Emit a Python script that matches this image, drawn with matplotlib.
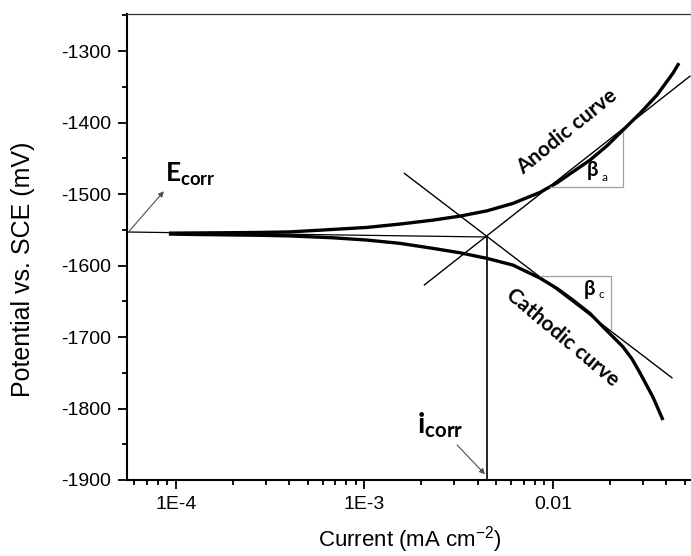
import matplotlib
matplotlib.use("Agg")
import matplotlib.pyplot as plt
from matplotlib.ticker import FixedLocator, LogLocator, NullFormatter, MultipleLocator

# curvas de polarización
i_anod = [9.18e-5, 1.341e-4, 1.934e-4, 2.790e-4, 4.025e-4, 6.806e-4, 1.031e-3,
          1.543e-3, 2.309e-3, 3.210e-3, 4.466e-3, 6.134e-3, 8.532e-3, 1.050e-2,
          1.277e-2, 1.571e-2, 1.934e-2, 2.351e-2, 2.893e-2, 3.561e-2, 4.332e-2,
          4.661e-2]
E_anod = [-1554.6, -1554.3, -1554.0, -1553.6, -1552.9, -1549.4, -1546.6,
          -1541.9, -1536.4, -1530.8, -1523.4, -1513.0, -1497.6, -1484.2,
          -1468.8, -1452.5, -1432.4, -1410.5, -1387.1, -1361.5, -1330.8,
          -1316.8]

i_cat = [9.18e-5, 1.341e-4, 1.934e-4, 2.790e-4, 4.025e-4, 6.806e-4, 1.031e-3,
         1.543e-3, 2.309e-3, 3.210e-3, 4.466e-3, 6.134e-3, 8.532e-3, 1.050e-2,
         1.277e-2, 1.571e-2, 1.842e-2, 2.351e-2, 2.625e-2, 2.893e-2, 3.392e-2,
         3.834e-2]
E_cat = [-1555.9, -1556.6, -1557.1, -1557.6, -1558.5, -1561.1, -1564.3,
         -1568.9, -1575.9, -1582.1, -1589.9, -1599.3, -1617.5, -1631.9,
         -1648.3, -1666.9, -1685.6, -1713.6, -1730.5, -1750.0, -1783.9,
         -1816.1]

# rectas de Tafel
i_tafel_a = [2.08e-3, 5.33e-2]
E_tafel_a = [-1627, -1335]
i_tafel_c = [1.63e-3, 4.28e-2]
E_tafel_c = [-1471, -1757]

# punto de corrosión
x_min, x_max = 5.5e-5, 0.054
y_min, y_max = -1900, -1248
i_corr = 4.47e-3
E_corr_axis = -1553
E_corr = -1560

# triángulos beta
beta_a_x = [9.64e-3, 2.35e-2, 2.35e-2]
beta_a_y = [-1490, -1490, -1413]
beta_c_x = [8.53e-3, 2.03e-2, 2.03e-2]
beta_c_y = [-1615, -1615, -1690]

x_ticks = [1e-4, 1e-3, 1e-2]
x_ticklabels = ["1E-4", "1E-3", "0.01"]
y_ticks = [-1900, -1800, -1700, -1600, -1500, -1400, -1300]

plt.rcParams["font.family"] = ["Liberation Sans", "DejaVu Sans"]
plt.rcParams["axes.unicode_minus"] = False
plt.rcParams["mathtext.fontset"] = "custom"
plt.rcParams["mathtext.rm"] = "Liberation Sans"
plt.rcParams["mathtext.bf"] = "Lato:bold"
anot = ["Lato", "DejaVu Sans"]

fig = plt.figure(figsize=(6.91, 5.56), dpi=100)
ax = fig.add_axes([0.1838, 0.1367, 1 - 0.1838, 0.9748 - 0.1367])
ax.set_xscale("log")
ax.set_xlim(x_min, x_max)
ax.set_ylim(y_min, y_max)

ax.plot(i_anod, E_anod, color="black", lw=2.4, solid_capstyle="butt")
ax.plot(i_cat, E_cat, color="black", lw=2.4, solid_capstyle="butt")
ax.plot(i_tafel_a, E_tafel_a, color="black", lw=1.0)
ax.plot(i_tafel_c, E_tafel_c, color="black", lw=1.0)
ax.plot([x_min, i_corr], [E_corr_axis, E_corr], color="black", lw=0.9)
ax.plot([i_corr, i_corr], [E_corr, y_min], color="black", lw=1.2)
ax.plot(beta_a_x, beta_a_y, color="#a0a0a0", lw=0.9)
ax.plot(beta_c_x, beta_c_y, color="#a0a0a0", lw=0.9)

# textos
ax.text(0.01186, -1413, "Anodic curve", rotation=39, ha="center", va="center",
        fontsize=15, fontweight="bold", family=anot)
ax.text(0.0112, -1701, "Cathodic curve", rotation=-40, ha="center", va="center",
        fontsize=15, fontweight="bold", family=anot)
ax.text(0.0151, -1475, "β", ha="left", va="baseline", fontsize=14.5,
        fontweight="bold", family=anot)
ax.text(0.0180, -1482, "a", ha="left", va="baseline", fontsize=8.5, family=anot)
ax.text(0.0146, -1641, "β", ha="left", va="baseline", fontsize=14.5,
        fontweight="bold", family=anot)
ax.text(0.0174, -1646, "c", ha="left", va="baseline", fontsize=8.5, family=anot)

ax.text(8.74e-5, -1483, r"$\mathbf{E}_{\mathbf{corr}}$", ha="left",
        va="baseline", fontsize=19)
ax.text(1.90e-3, -1834, r"$\mathbf{i}_{\mathbf{corr}}$", ha="left",
        va="baseline", fontsize=21)

flecha = dict(arrowstyle="-|>", color="#505050", lw=0.8, mutation_scale=8,
              shrinkA=0, shrinkB=0)
ax.annotate("", xy=(8.63e-5, -1496), xytext=(5.64e-5, -1552), arrowprops=flecha)
ax.annotate("", xy=(4.36e-3, -1892), xytext=(3.1e-3, -1851), arrowprops=flecha)

# ejes
ax.xaxis.set_major_locator(FixedLocator(x_ticks))
ax.set_xticklabels(x_ticklabels)
ax.xaxis.set_minor_locator(LogLocator(base=10, subs=range(2, 10)))
ax.xaxis.set_minor_formatter(NullFormatter())
ax.set_yticks(y_ticks)
ax.yaxis.set_minor_locator(MultipleLocator(50))

ax.tick_params(which="major", direction="out", length=6.5, width=1.3,
               labelsize=14, pad=5)
ax.tick_params(which="minor", direction="out", length=3.5, width=1.3)
ax.spines["right"].set_visible(False)
ax.spines["left"].set_linewidth(1.5)
ax.spines["bottom"].set_linewidth(1.5)
ax.spines["top"].set_linewidth(0.9)
ax.spines["top"].set_color("#333333")

ax.set_xlabel(r"Current (mA cm$^{\mathrm{-2}}$)", fontsize=16)
ax.set_ylabel("Potential vs. SCE (mV)", fontsize=18)
ax.xaxis.set_label_coords(0.502, -0.095)
ax.yaxis.set_label_coords(-0.163, 0.453)

fig.savefig("out.png", dpi=100)
